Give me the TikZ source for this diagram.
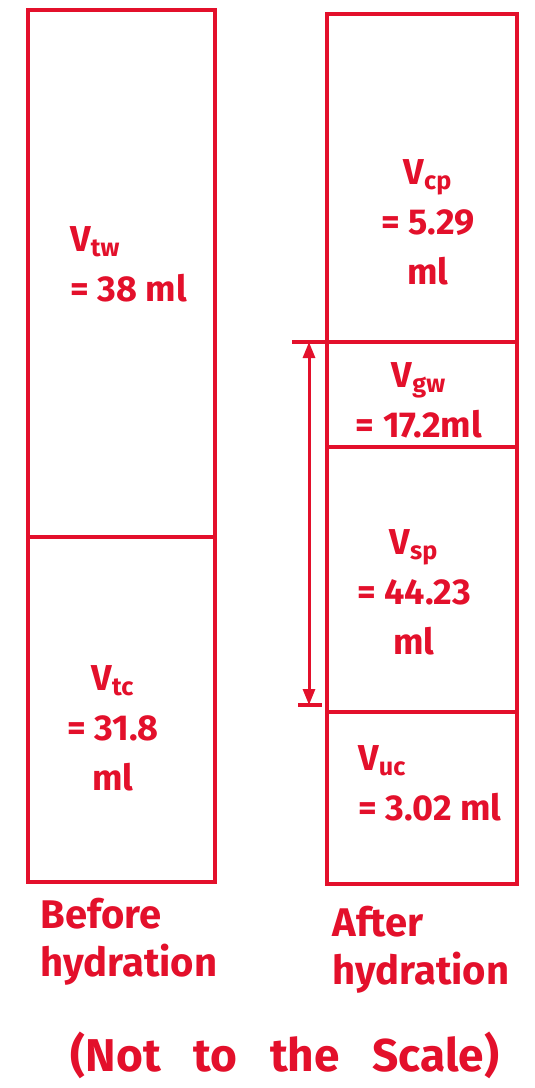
\documentclass[tikz,border=0pt]{standalone}
\usepackage{fontspec}
\setmainfont{Fira Sans}
\usepackage{tikz}
\usetikzlibrary{arrows.meta}
\definecolor{inkred}{HTML}{E3102B}
\tikzset{wall/.style={draw=inkred,line width=1.8pt},
  lbl/.style={text=inkred,font=\fontsize{18}{25}\selectfont\bfseries,inner sep=0pt},
  captxt/.style={text=inkred,font=\fontsize{20}{24}\selectfont\bfseries,inner sep=0pt,align=left,anchor=north west}}

\begin{document}
\begin{tikzpicture}[x=0.5pt,y=-0.5pt]
\useasboundingbox (0,0) rectangle (535,1088);
% columns
\draw[wall] (28,10) rectangle (215,882);
\draw[wall] (327,14) rectangle (517,884);
\draw[wall] (28,537) -- (215,537);
\foreach \y in {447,712}{\draw[wall] (327,\y) -- (517,\y);}
\draw[wall] (292,342) -- (517,342);
\draw[wall] (298,705) -- (322,705);
\coordinate (gtop) at (309,342);
\coordinate (sbot) at (309,705);
\draw[inkred,line width=1.5pt,{Triangle[length=8pt,width=6pt]}-{Triangle[length=8pt,width=6pt]}] (gtop) -- (sbot);
% labels
\node[lbl,align=left,anchor=north west] (tw) at (70,226) {V\textsubscript{tw}\\ = 38 ml};
\node[lbl,align=center] (cp) at (428,222) {V\textsubscript{cp}\\ = 5.29\\ ml};
\node[lbl,align=center] (gw) at (419,400) {V\textsubscript{gw}\\ = 17.2ml};
\node[lbl,align=center] (sp) at (414,592) {V\textsubscript{sp}\\ = 44.23\\ ml};
\node[lbl,align=center] (tc) at (113,728) {V\textsubscript{tc}\\ = 31.8\\ ml};
\node[lbl,align=left,anchor=north west] (uc) at (358,745) {V\textsubscript{uc}\\ = 3.02 ml};
\node[captxt] (before) at (40,898) {Before\\ hydration};
\node[captxt] (after) at (332,906) {After\\ hydration};
\node[text=inkred,font=\fontsize{23}{26}\selectfont\bfseries,inner sep=0pt] (note) at (285,1055) {(Not\ \ \ to\ \ \ the\ \ \ Scale)};
\end{tikzpicture}
\end{document}
